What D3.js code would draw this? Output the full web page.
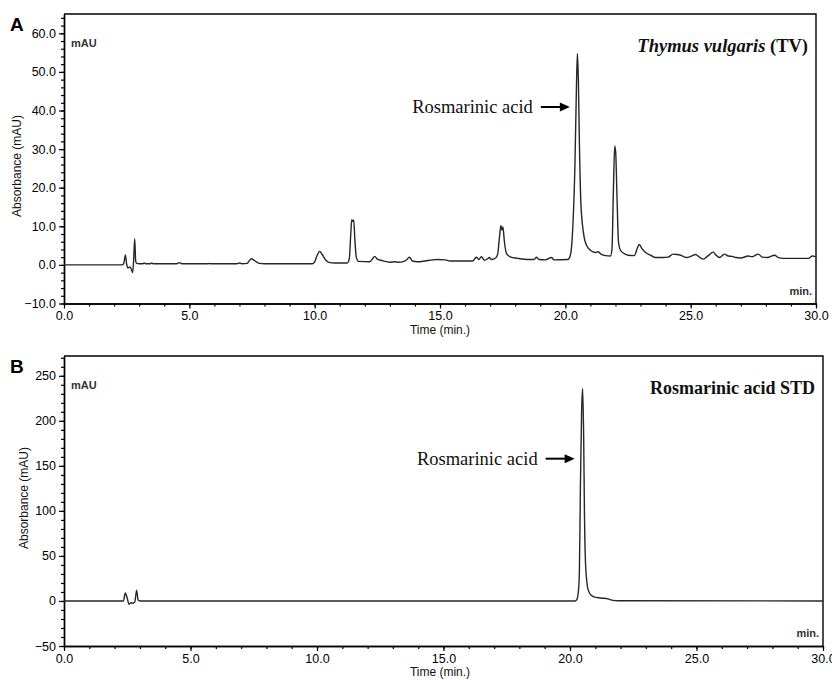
<!DOCTYPE html>
<html>
<head>
<meta charset="utf-8">
<script src="https://cdn.jsdelivr.net/npm/d3@7"></script>
<style>
    body { margin: 0; background: #fff; }
    svg { display: block; }
    .tick text { font-family: "Liberation Sans", Arial, sans-serif; font-size: 12.5px; fill: #000; }
    .axis-title { font-family: "Liberation Sans", Arial, sans-serif; font-size: 12px; fill: #111; }
    .unit { font-family: "Liberation Sans", Arial, sans-serif; font-size: 11px; font-weight: bold; fill: #333; }
    .serif { font-family: "Liberation Serif", "Times New Roman", serif; fill: #111; }
</style>
</head>
<body>
<div id="chart"></div>
<script>

// [time (min), absorbance (mAU)]
let traceA = [
    [0.0, 0], [2.3, 0], [2.38, 0.3], [2.45, 2.6], [2.5, 0.2], [2.55, -0.8], [2.62, -0.5], [2.68, -1.0],
    [2.74, -2.0], [2.78, 1.5], [2.82, 6.8], [2.86, 1.0], [2.9, 0.4], [3.0, 0.3], [3.15, 0.3], [3.2, 0.5],
    [3.27, 0.3], [3.45, 0.3], [3.5, 0.5], [3.55, 0.3], [4.5, 0.3], [4.6, 0.6], [4.7, 0.3], [5.75, 0.3],
    [5.8, 0.4], [5.85, 0.3], [6.9, 0.3], [7.0, 0.5], [7.1, 0.3], [7.3, 0.4], [7.47, 1.6], [7.6, 1.1],
    [7.8, 0.4], [8.0, 0.3], [9.9, 0.3], [10.0, 0.8], [10.1, 2.5], [10.2, 3.5], [10.3, 2.7], [10.45, 1.2],
    [10.6, 0.6], [10.8, 0.5], [11.3, 0.5], [11.38, 1.5], [11.44, 8.0], [11.48, 11.7], [11.52, 11.3],
    [11.56, 11.6], [11.6, 7.0], [11.66, 2.0], [11.75, 0.9], [12.2, 0.8], [12.3, 1.5], [12.4, 2.2],
    [12.5, 1.5], [12.65, 1.2], [12.8, 0.9], [13.0, 0.7], [13.2, 0.8], [13.35, 0.7], [13.5, 0.8],
    [13.65, 1.2], [13.78, 2.0], [13.9, 1.0], [14.1, 0.8], [14.4, 1.0], [14.7, 1.3], [14.9, 1.4],
    [15.2, 1.3], [15.4, 1.0], [16.3, 1.0], [16.45, 2.0], [16.55, 1.4], [16.65, 2.1], [16.78, 1.2],
    [16.9, 1.6], [16.97, 1.9], [17.05, 1.4], [17.22, 1.8], [17.3, 2.8], [17.37, 7.0], [17.43, 10.2],
    [17.47, 9.0], [17.51, 9.8], [17.57, 6.0], [17.65, 3.0], [17.8, 2.1], [18.1, 1.7], [18.5, 1.4],
    [18.75, 1.4], [18.85, 2.0], [18.95, 1.4], [19.2, 1.3], [19.45, 1.9], [19.55, 1.3], [20.1, 1.4],
    [20.2, 2.5], [20.3, 10], [20.38, 25], [20.44, 45], [20.48, 54.8], [20.52, 48], [20.56, 32],
    [20.62, 16], [20.72, 8.5], [20.85, 5.0], [21.0, 3.8], [21.2, 3.2], [21.3, 3.4], [21.42, 2.8],
    [21.6, 2.4], [21.8, 2.3], [21.86, 4], [21.92, 20], [21.97, 30.8], [22.01, 29], [22.06, 18],
    [22.12, 6], [22.2, 3.8], [22.35, 2.9], [22.5, 2.5], [22.75, 2.4], [22.88, 4.5], [22.95, 5.3],
    [23.05, 4.3], [23.2, 3.2], [23.4, 2.5], [23.6, 1.9], [23.9, 1.9], [24.1, 2.0], [24.3, 2.8],
    [24.45, 2.7], [24.6, 2.5], [24.85, 1.9], [25.0, 2.2], [25.2, 2.7], [25.35, 2.0], [25.5, 1.5],
    [25.7, 2.4], [25.9, 3.3], [26.0, 2.6], [26.15, 1.9], [26.35, 2.8], [26.5, 2.3], [26.65, 2.2],
    [26.8, 1.9], [27.0, 1.8], [27.3, 2.3], [27.45, 2.1], [27.7, 2.8], [27.85, 2.0], [28.05, 1.9],
    [28.35, 2.5], [28.5, 1.9], [28.7, 1.7], [29.7, 1.7], [29.85, 2.3], [29.95, 2.2], [30.0, 2.0]
];

let traceB = [
    [0.0, 0], [2.35, 0], [2.42, 9], [2.5, 3], [2.57, -3.5], [2.65, -2], [2.72, -2.5], [2.8, -1],
    [2.87, 12], [2.93, 1], [3.0, 0], [20.2, 0], [20.26, 1], [20.33, 10], [20.37, 31], [20.41, 123],
    [20.46, 212], [20.5, 236], [20.54, 182], [20.57, 101], [20.62, 38], [20.72, 12], [20.85, 6],
    [20.95, 4.5], [21.2, 3.3], [21.5, 2.3], [21.7, 0.6], [21.9, 0.2], [30.0, 0]
];

let timeTicks = [0, 5, 10, 15, 20, 25, 30];
let yTicksA = [-10, 0, 10, 20, 30, 40, 50, 60];
let yTicksB = [-50, 0, 50, 100, 150, 200, 250];

let rtRosmarinic = 20.5;


class ChromatogramVis {

    constructor(svg, trace, opts) {
        this.svg = svg;
        this.trace = trace;
        this.opts = opts;
        this.initVis();
    }

    initVis() {
        let vis = this;
        let o = vis.opts;

        vis.x = d3.scaleLinear().domain([0, 30]).range([o.left, o.right]);
        vis.y = d3.scaleLinear().domain(o.yDomain).range([o.bottom, o.top]);

        vis.g = vis.svg.append("g");

        // minor ticks first so the major ones sit on top
        vis.g.append("g")
            .attr("transform", "translate(0," + o.bottom + ")")
            .call(d3.axisBottom(vis.x).tickValues(d3.range(0, 31, 1)).tickSize(3).tickFormat("").tickSizeOuter(0));

        vis.g.append("g")
            .attr("transform", "translate(" + o.left + ",0)")
            .call(d3.axisLeft(vis.y).tickValues(d3.range(o.yDomain[0], o.yDomain[1], o.yMinor)).tickSize(3).tickFormat("").tickSizeOuter(0));

        vis.xAxis = vis.g.append("g")
            .attr("transform", "translate(0," + o.bottom + ")")
            .call(d3.axisBottom(vis.x).tickValues(timeTicks).tickFormat(d3.format(".1f")).tickSize(5).tickPadding(3).tickSizeOuter(0));

        vis.yAxis = vis.g.append("g")
            .attr("transform", "translate(" + o.left + ",0)")
            .call(d3.axisLeft(vis.y).tickValues(o.yTicks).tickFormat(d3.format(o.yFormat)).tickSize(5).tickPadding(3).tickSizeOuter(0));

        vis.g.selectAll(".domain").attr("stroke", "#000").attr("stroke-width", 1.4);
        vis.g.selectAll(".tick line").attr("stroke", "#000").attr("stroke-width", 1.2);

        // top and right frame
        vis.g.append("path")
            .attr("d", "M" + o.left + "," + o.top + "H" + o.right + "V" + o.bottom)
            .attr("fill", "none")
            .attr("stroke", "#000")
            .attr("stroke-width", 1.4);

        let line = d3.line()
            .x(d => vis.x(d[0]))
            .y(d => vis.y(d[1]))
            .curve(d3.curveMonotoneX);

        vis.g.append("path")
            .datum(vis.trace)
            .attr("d", line)
            .attr("fill", "none")
            .attr("stroke", "#262626")
            .attr("stroke-width", 1.4)
            .attr("stroke-linejoin", "round");

        vis.g.append("text")
            .attr("x", 10).attr("y", o.top + 17)
            .style("font-family", "'Liberation Sans', Arial, sans-serif")
            .style("font-weight", "bold")
            .style("font-size", "19px")
            .text(o.panel);

        vis.g.append("text")
            .attr("class", "unit")
            .attr("x", o.left + 7).attr("y", o.top + 33)
            .text("mAU");

        vis.g.append("text")
            .attr("class", "unit")
            .attr("text-anchor", "end")
            .attr("x", o.right - 4).attr("y", o.bottom - 9)
            .text("min.");

        vis.g.append("text")
            .attr("class", "axis-title")
            .attr("text-anchor", "middle")
            .attr("x", 440).attr("y", o.bottom + 30)
            .text("Time (min.)");

        vis.g.append("text")
            .attr("class", "axis-title")
            .attr("text-anchor", "middle")
            .attr("transform", "translate(" + o.yTitleX + "," + o.yTitleY + ") rotate(-90)")
            .text("Absorbance (mAU)");

        let title = vis.g.append("text")
            .attr("class", "serif")
            .attr("text-anchor", "end")
            .attr("x", o.right - 8).attr("y", o.top + 38)
            .style("font-weight", "bold")
            .style("font-size", o.titleSize + "px");
        o.title.forEach(part => {
            title.append("tspan").style("font-style", part.italic ? "italic" : "normal").text(part.text);
        });

        vis.annotate();
    }

    annotate() {
        let vis = this;
        let o = vis.opts;
        let tipX = vis.x(rtRosmarinic) - 8;
        let ay = vis.y(o.arrowAt);

        vis.g.append("text")
            .attr("class", "serif")
            .attr("text-anchor", "end")
            .attr("x", tipX - 37).attr("y", ay + 6)
            .style("font-size", "18.5px")
            .text("Rosmarinic acid");

        vis.g.append("line")
            .attr("x1", tipX - 29).attr("x2", tipX - 8)
            .attr("y1", ay).attr("y2", ay)
            .attr("stroke", "#000")
            .attr("stroke-width", 2);

        vis.g.append("path")
            .attr("d", "M" + tipX + "," + ay + "l-10,-4.5v9z")
            .attr("fill", "#000");
    }
}


let svg = d3.select("#chart").append("svg")
    .attr("width", 832)
    .attr("height", 680);

new ChromatogramVis(svg, traceA, {
    panel: "A", left: 64, right: 816, top: 14, bottom: 303.5,
    yDomain: [-10, 65], yTicks: yTicksA, yMinor: 2, yFormat: ".1f",
    yTitleX: 21, yTitleY: 166, arrowAt: 40.9, titleSize: 18.5,
    title: [{text: "Thymus vulgaris", italic: true}, {text: " (TV)", italic: false}]
});

new ChromatogramVis(svg, traceB, {
    panel: "B", left: 64, right: 823, top: 356, bottom: 646,
    yDomain: [-50, 272], yTicks: yTicksB, yMinor: 10, yFormat: "d",
    yTitleX: 28, yTitleY: 498, arrowAt: 158, titleSize: 18,
    title: [{text: "Rosmarinic acid STD", italic: false}]
});

</script>
</body>
</html>
